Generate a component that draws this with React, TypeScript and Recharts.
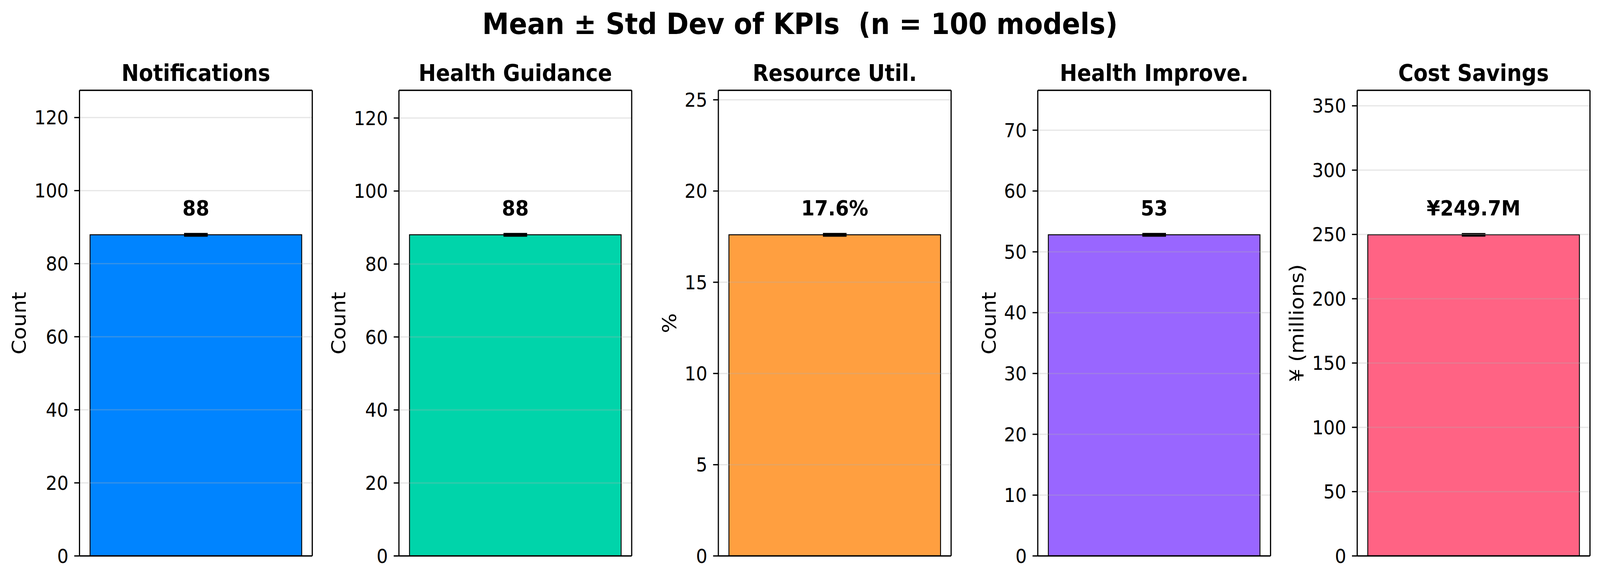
import { Bar, BarChart, ErrorBar, LabelList, ReferenceLine, XAxis, YAxis } from "recharts";

// KPI summary values
const kpiTitles = ["Notifications", "Health Guidance", "Resource Util.", "Health Improve.", "Cost Savings"];
const kpiMeans = [87.9, 88.0, 17.6, 52.8, 249.7];
const kpiStds = [0.2, 0.2, 0.04, 0.12, 0.5];
const kpiValueLabels = ["88", "88", "17.6%", "53", "¥249.7M"];
const kpiUnits = ["Count", "Count", "%", "Count", "¥ (millions)"];
const kpiTicks = [
  [0, 20, 40, 60, 80, 100, 120],
  [0, 20, 40, 60, 80, 100, 120],
  [0, 5, 10, 15, 20, 25],
  [0, 10, 20, 30, 40, 50, 60, 70],
  [0, 50, 100, 150, 200, 250, 300, 350],
];
const kpiColors = ["#0084FF", "#00D4AA", "#FF9F40", "#9966FF", "#FF6384"];

const SUPTITLE = "Mean ± Std Dev of KPIs  (n = 100 models)";

const FONT = "'DejaVu Sans', sans-serif";
const W = 4468;
const H = 1481;
const AXIS_W = 222; // room for tick labels + y label
const PLOT_W = 650;
const PLOT_LEFT0 = 222;
const PLOT_STEP = 892;
const PLOT_TOP = 231;
const PLOT_BOTTOM = 1422;
const SPINE = 3.3;
const RIGHT_PAD = 20;

function Panel({ i }: { i: number }) {
  const data = [{ name: kpiTitles[i], mean: kpiMeans[i], std: kpiStds[i], label: kpiValueLabels[i] }];
  const ticks = kpiTicks[i];
  const yMax = kpiMeans[i] * 1.45;
  const digits = Math.max(...ticks.map((t) => String(t).length));
  const ylabelGap = 54 + 32 * digits;
  const spine = { stroke: "#000", strokeWidth: SPINE };

  // recharts skips zero-sized axes, so the frame axes get 1px and the margins give it back
  return (
    <div style={{ position: "absolute", left: PLOT_LEFT0 + PLOT_STEP * i - AXIS_W, top: 0 }}>
      <BarChart
        width={AXIS_W + PLOT_W + RIGHT_PAD}
        height={H}
        data={data}
        margin={{ top: PLOT_TOP - 1, right: RIGHT_PAD - 1, bottom: H - PLOT_BOTTOM - 1, left: 0 }}
        barCategoryGap="4.54%"
      >
        <XAxis dataKey="name" height={1} tick={false} tickLine={false} axisLine={spine} />
        <XAxis
          xAxisId="top"
          orientation="top"
          dataKey="name"
          height={1}
          tick={false}
          tickLine={false}
          axisLine={spine}
          label={{
            content: (p: any) => (
              <text
                x={p.viewBox.x + p.viewBox.width / 2}
                y={PLOT_TOP - 24}
                textAnchor="middle"
                fontFamily={FONT}
                fontSize={58}
                fontWeight="bold"
                fill="#000"
              >
                {kpiTitles[i]}
              </text>
            ),
          }}
        />
        <YAxis
          type="number"
          width={AXIS_W}
          domain={[0, yMax]}
          ticks={ticks}
          interval={0}
          allowDataOverflow
          tickSize={14.6}
          tickMargin={16}
          tick={{ fill: "#000", fontSize: 50, fontFamily: FONT }}
          tickLine={spine}
          axisLine={spine}
          label={{
            content: (p: any) => {
              const x = p.viewBox.x + p.viewBox.width - ylabelGap;
              const y = p.viewBox.y + p.viewBox.height / 2;
              return (
                <text
                  x={x}
                  y={y}
                  transform={`rotate(-90, ${x}, ${y})`}
                  textAnchor="middle"
                  fontFamily={FONT}
                  fontSize={54}
                  fill="#000"
                >
                  {kpiUnits[i]}
                </text>
              );
            },
          }}
        />
        <YAxis yAxisId="right" orientation="right" width={1} domain={[0, 1]} tick={false} tickLine={false} axisLine={spine} />
        <Bar dataKey="mean" fill={kpiColors[i]} stroke="#000" strokeWidth={2.5} isAnimationActive={false}>
          <ErrorBar dataKey="std" direction="y" width={33} stroke="#000" strokeWidth={6} />
          <LabelList
            dataKey="label"
            content={(p: any) => (
              <text
                x={Number(p.x) + Number(p.width) / 2}
                y={Number(p.y) - 50}
                textAnchor="middle"
                fontFamily={FONT}
                fontSize={54}
                fontWeight="bold"
                fill="#000"
              >
                {p.value}
              </text>
            )}
          />
        </Bar>
        {ticks
          .filter((t) => t > 0)
          .map((t) => (
            <ReferenceLine key={t} y={t} stroke="#b0b0b0" strokeOpacity={0.3} strokeWidth={SPINE} />
          ))}
      </BarChart>
    </div>
  );
}

export default function App() {
  // the browser window tops out narrower than the figure, so squeeze x to fit it
  const sx = typeof window !== "undefined" ? Math.min(1, window.innerWidth / W) : 1;
  return (
    <div
      style={{
        position: "absolute",
        left: 0,
        top: 0,
        width: W,
        height: H,
        background: "#fff",
        transform: `scale(${sx}, 1)`,
        transformOrigin: "0 0",
      }}
    >
      <svg width={W} height={130} style={{ position: "absolute", left: 0, top: 0 }}>
        <text
          x={W / 2}
          y={87}
          textAnchor="middle"
          fontFamily={FONT}
          fontSize={75}
          fontWeight="bold"
          fill="#000"
          style={{ whiteSpace: "pre" }}
        >
          {SUPTITLE}
        </text>
      </svg>
      {kpiTitles.map((_, i) => (
        <Panel key={i} i={i} />
      ))}
    </div>
  );
}
